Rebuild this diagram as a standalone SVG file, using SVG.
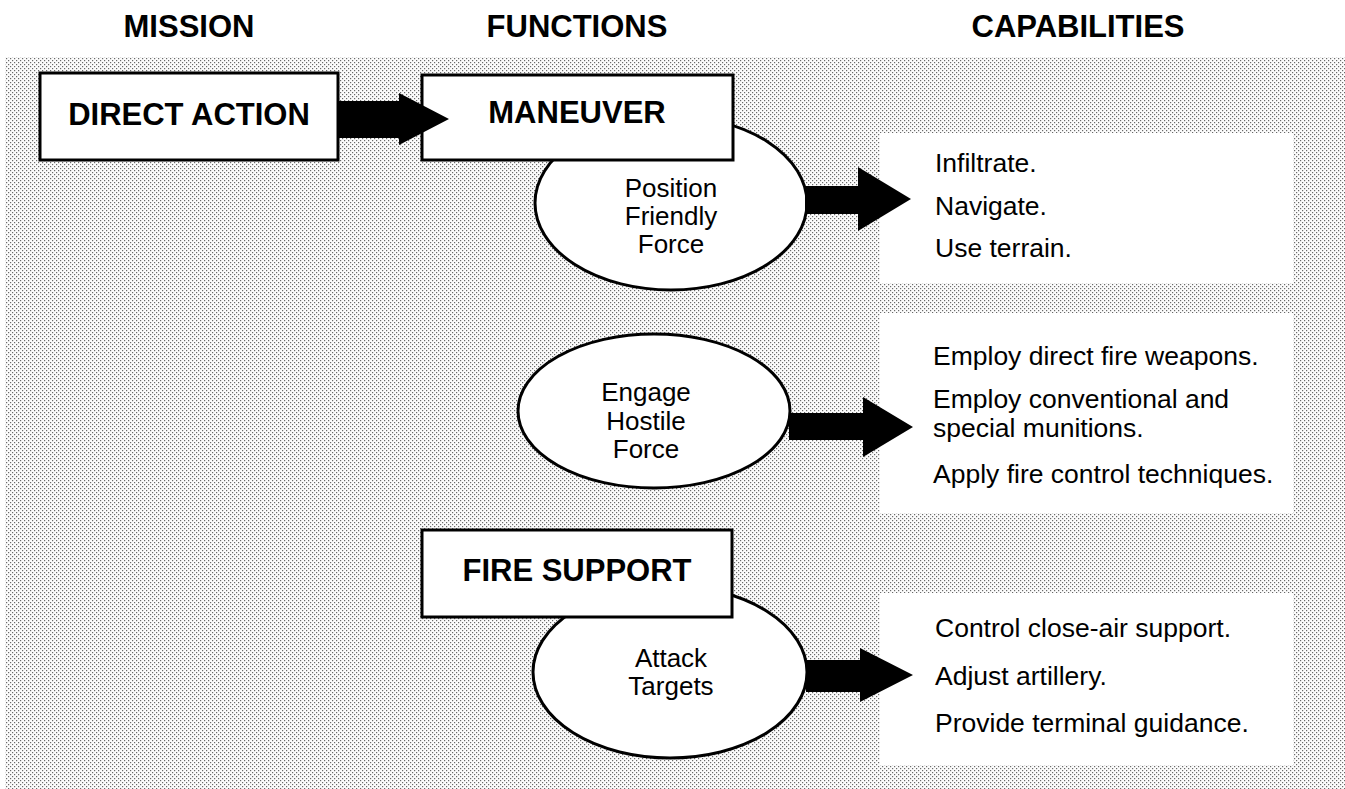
<svg xmlns="http://www.w3.org/2000/svg" width="1345" height="789" viewBox="0 0 1345 789">
<style>
.hd{font-family:"Liberation Sans",Arial,sans-serif;font-weight:bold;font-size:31px;fill:#000;text-anchor:middle}
.bx{fill:#fff;stroke:#000;stroke-width:3}
.bt{font-family:"Liberation Sans",Arial,sans-serif;font-weight:bold;font-size:31px;fill:#000;text-anchor:middle}
.el{fill:#fff;stroke:#000;stroke-width:3}
.et{font-family:"Liberation Sans",Arial,sans-serif;font-size:26px;fill:#000;text-anchor:middle}
.cb{fill:#fff;stroke:none}
.ct{font-family:"Liberation Sans",Arial,sans-serif;font-size:26.5px;fill:#000}
.ar{fill:#000;stroke:none}
</style>
<defs>
<pattern id="dots" width="4" height="4" patternUnits="userSpaceOnUse">
<rect width="4" height="4" fill="#fcfcfc"/>
<rect x="0" y="0" width="1.2" height="1.2" fill="#6a6a6a"/>
<rect x="2" y="2" width="1.2" height="1.2" fill="#6a6a6a"/>
</pattern>
</defs>
<rect width="1345" height="789" fill="#fff"/>
<rect x="5" y="57" width="1340" height="732" fill="url(#dots)"/>
<g id="headings">
<text class="hd" x="189" y="37">MISSION</text>
<text class="hd" x="577" y="37">FUNCTIONS</text>
<text class="hd" x="1078" y="37">CAPABILITIES</text>
</g>
<g id="direct-action">
<rect class="bx" x="40" y="73" width="298" height="87"/>
<text class="bt" x="189" y="125">DIRECT ACTION</text>
</g>
<g id="position-friendly-force">
<ellipse class="el" cx="671" cy="203" rx="136" ry="87"/>
<text class="et" x="671" y="197">Position</text>
<text class="et" x="671" y="225">Friendly</text>
<text class="et" x="671" y="253">Force</text>
</g>
<g id="maneuver">
<rect class="bx" x="422" y="75" width="311" height="85"/>
<text class="bt" x="577" y="123">MANEUVER</text>
</g>
<g id="engage-hostile-force">
<ellipse class="el" cx="654" cy="411" rx="136" ry="77"/>
<text class="et" x="646" y="401">Engage</text>
<text class="et" x="646" y="430">Hostile</text>
<text class="et" x="646" y="458">Force</text>
</g>
<g id="attack-targets">
<ellipse class="el" cx="670" cy="672" rx="137" ry="86"/>
<text class="et" x="671" y="667">Attack</text>
<text class="et" x="671" y="695">Targets</text>
</g>
<g id="fire-support">
<rect class="bx" x="422" y="530" width="310" height="87"/>
<text class="bt" x="577" y="581">FIRE SUPPORT</text>
</g>
<g id="capabilities-maneuver">
<rect class="cb" x="880" y="133" width="413" height="150"/>
<text class="ct" x="935" y="172">Infiltrate.</text>
<text class="ct" x="935" y="215">Navigate.</text>
<text class="ct" x="935" y="257">Use terrain.</text>
</g>
<g id="capabilities-engage">
<rect class="cb" x="880" y="313" width="413" height="200"/>
<text class="ct" x="933" y="365">Employ direct fire weapons.</text>
<text class="ct" x="933" y="408">Employ conventional and</text>
<text class="ct" x="933" y="437">special munitions.</text>
<text class="ct" x="933" y="483">Apply fire control techniques.</text>
</g>
<g id="capabilities-fire-support">
<rect class="cb" x="880" y="593" width="413" height="172"/>
<text class="ct" x="935" y="637">Control close-air support.</text>
<text class="ct" x="935" y="685">Adjust artillery.</text>
<text class="ct" x="935" y="732">Provide terminal guidance.</text>
</g>
<g id="connectors">
<polygon class="ar" points="339,101 399,101 399,93 449,119 399,145 399,138 339,138"/>
<polygon class="ar" points="805,186 858,186 858,167 911,199 858,231 858,214 805,214"/>
<polygon class="ar" points="789,413 863,413 863,397 913,427 863,457 863,440 789,440"/>
<polygon class="ar" points="806,660 860,660 860,648 913,675 860,702 860,692 806,692"/>
</g>
</svg>
